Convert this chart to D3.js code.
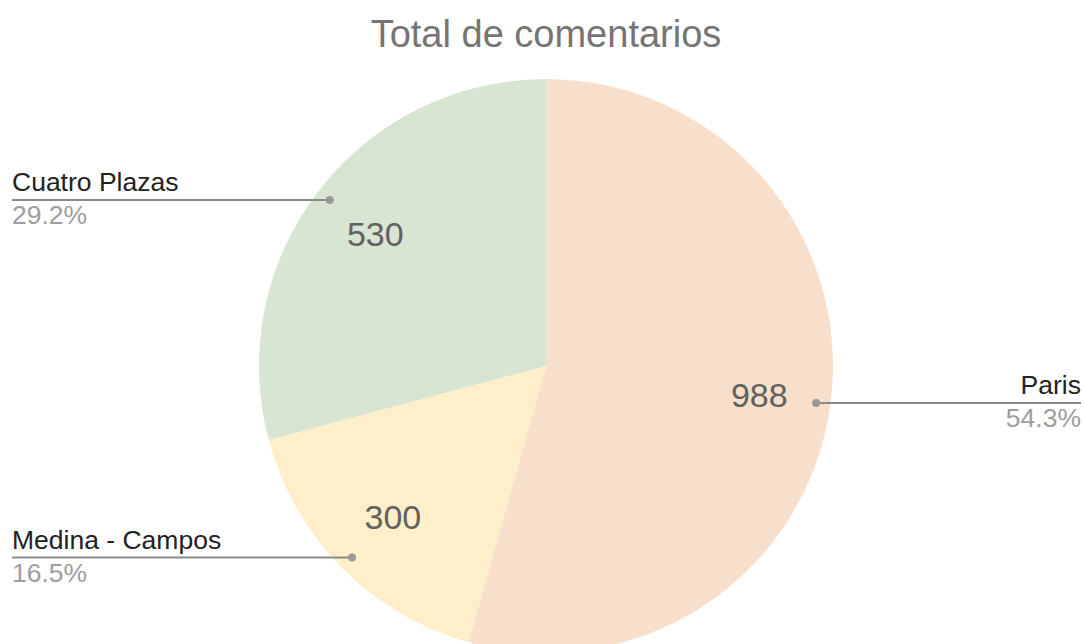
<!DOCTYPE html>
<html>
<head>
<meta charset="utf-8">
<script src="https://cdn.jsdelivr.net/npm/d3@7"></script>
<style>
  body { margin: 0; background: #fff; }
  svg { display: block; font-family: Arial, "Liberation Sans", sans-serif; }
</style>
</head>
<body>
<script>
var chartTitle = 'Total de comentarios';
var categories = ['Paris', 'Medina - Campos', 'Cuatro Plazas'];
var values = [988, 300, 530];
var colors = ['#f8dfcc', '#feeeca', '#d9e5d3'];

var width = 1084, height = 644;
var cx = 546, cy = 366, radius = 287;

var svg = d3.select('body').append('svg')
    .attr('width', width)
    .attr('height', height);

svg.append('text')
    .attr('x', cx)
    .attr('y', 47)
    .attr('text-anchor', 'middle')
    .style('font-size', '38px')
    .style('fill', '#757575')
    .text(chartTitle);

var data = categories.map(function(c, i) {
  return { name: c, value: values[i], color: colors[i] };
});
var total = d3.sum(values);

var pie = d3.pie()
    .sort(null)
    .value(function(d) { return d.value; });

var arc = d3.arc().innerRadius(0).outerRadius(radius);
var labelArc = d3.arc().innerRadius(radius * 0.75).outerRadius(radius * 0.75);
var dotArc = d3.arc().innerRadius(radius * 0.95).outerRadius(radius * 0.95);

var g = svg.append('g').attr('transform', 'translate(' + cx + ',' + cy + ')');
var arcs = pie(data);

g.selectAll('path')
    .data(arcs)
    .enter()
    .append('path')
    .attr('d', arc)
    .attr('fill', function(d) { return d.data.color; });

g.selectAll('text.value')
    .data(arcs)
    .enter()
    .append('text')
    .attr('class', 'value')
    .attr('transform', function(d) { return 'translate(' + labelArc.centroid(d) + ')'; })
    .attr('text-anchor', 'middle')
    .attr('dy', '0.33em')
    .style('font-size', '34px')
    .style('fill', '#616161')
    .text(function(d) { return d.data.value; });

// leader lines with names and percentages
var fmt = d3.format('.1%');
var leg = svg.append('g');
arcs.forEach(function(d) {
  var p = dotArc.centroid(d);
  var x = cx + p[0], y = cy + p[1];
  var right = p[0] > 0;
  var edge = right ? width - 3 : 12;
  leg.append('line')
      .attr('x1', x).attr('y1', y)
      .attr('x2', edge).attr('y2', y)
      .attr('stroke', '#8a8a8a')
      .attr('stroke-width', 2);
  leg.append('circle')
      .attr('cx', x).attr('cy', y).attr('r', 4)
      .attr('fill', '#999');
  leg.append('text')
      .attr('x', edge).attr('y', y - 9)
      .attr('text-anchor', right ? 'end' : 'start')
      .style('font-size', '26.5px')
      .style('fill', '#222')
      .text(d.data.name);
  leg.append('text')
      .attr('x', edge).attr('y', y + 24)
      .attr('text-anchor', right ? 'end' : 'start')
      .style('font-size', '26.5px')
      .style('fill', '#9e9e9e')
      .text(fmt(d.data.value / total));
});
</script>
</body>
</html>
